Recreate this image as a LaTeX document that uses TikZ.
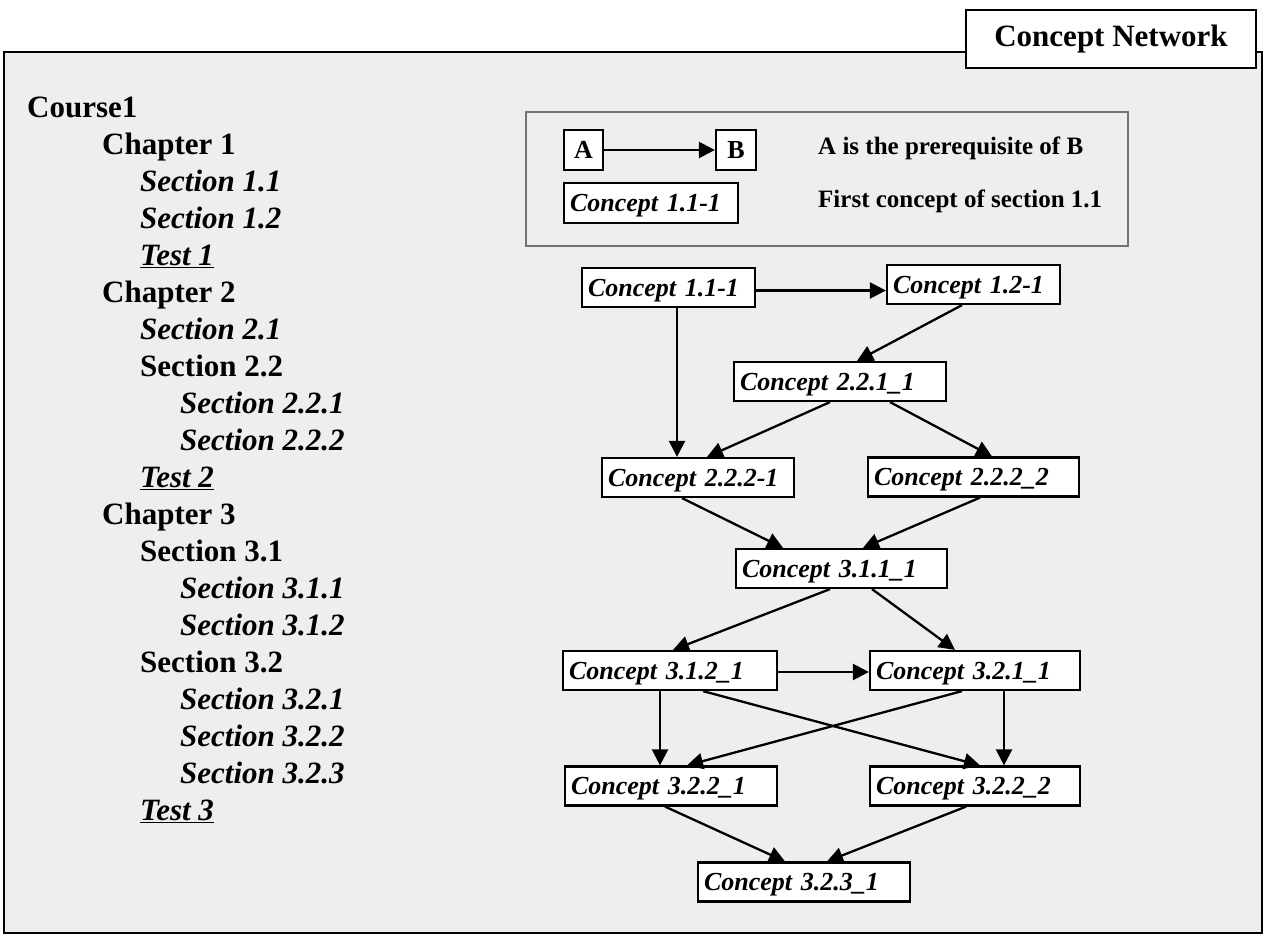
\documentclass[tikz,border=0pt]{standalone}
\usepackage{fontspec}
\setmainfont{Liberation Serif}
\usetikzlibrary{arrows.meta}
\definecolor{bgin}{gray}{0.935}
\tikzset{
  cbox/.style={draw=black, line width=2.2pt, fill=white, inner xsep=6pt, inner ysep=0pt,
    minimum height=39pt, align=left, text height=21pt, text depth=4pt,
    font=\fontsize{26}{28}\selectfont\bfseries\itshape},
  arr/.style={line width=2.3pt, -{Triangle[length=16pt,width=16pt]}},
  lvl/.style={anchor=mid west, inner sep=0pt, font=\fontsize{31}{34}\selectfont\bfseries},
  lvli/.style={lvl, font=\fontsize{31}{34}\selectfont\bfseries\itshape},
  legtext/.style={anchor=mid west, inner sep=0pt, font=\fontsize{25}{28}\selectfont\bfseries},
}
\begin{document}
\begin{tikzpicture}[x=1pt,y=-1pt]
\useasboundingbox (0,0) rectangle (1265,936);
\fill[white] (0,0) rectangle (1265,936);
% outer frame
\draw[line width=2.2pt, fill=bgin] (4,52) rectangle (1262,933);
% title tab
\node[draw, line width=2.2pt, fill=white, minimum width=290pt, minimum height=58pt, inner sep=0pt,
  font=\fontsize{31}{34}\selectfont\bfseries] (title) at (1111,39) {Concept Network};

% left outline
\node[lvl]  (l0)  at (27,115) {Course1};
\node[lvl]  (l1)  at (102,152) {Chapter 1};
\node[lvli] (l2)  at (140,189) {Section 1.1};
\node[lvli] (l3)  at (140,226) {Section 1.2};
\node[lvli] (l4)  at (140,263) {\underline{Test 1}};
\node[lvl]  (l5)  at (102,300) {Chapter 2};
\node[lvli] (l6)  at (140,337) {Section 2.1};
\node[lvl]  (l7)  at (140,374) {Section 2.2};
\node[lvli] (l8)  at (180,411) {Section 2.2.1};
\node[lvli] (l9)  at (180,448) {Section 2.2.2};
\node[lvli] (l10) at (140,485) {\underline{Test 2}};
\node[lvl]  (l11) at (102,522) {Chapter 3};
\node[lvl]  (l12) at (140,559) {Section 3.1};
\node[lvli] (l13) at (180,596) {Section 3.1.1};
\node[lvli] (l14) at (180,633) {Section 3.1.2};
\node[lvl]  (l15) at (140,670) {Section 3.2};
\node[lvli] (l16) at (180,707) {Section 3.2.1};
\node[lvli] (l17) at (180,744) {Section 3.2.2};
\node[lvli] (l18) at (180,781) {Section 3.2.3};
\node[lvli] (l19) at (140,818) {\underline{Test 3}};

% legend
\node[draw=black!55, line width=1.4pt, minimum width=602pt, minimum height=134pt, inner sep=0pt] (legend) at (827,179) {};
\node[cbox, font=\fontsize{26}{28}\selectfont\bfseries, minimum width=39pt, minimum height=40pt, inner xsep=0pt, align=center] (la) at (583.5,150) {A};
\node[cbox, font=\fontsize{26}{28}\selectfont\bfseries, minimum width=40pt, minimum height=40pt, inner xsep=0pt, align=center] (lb) at (736,150) {B};
\draw[arr] (la.east) -- (lb.west);
\node[cbox, text width=162pt, minimum height=40pt] (lc) at (651,203) {Concept 1.1-1};
\node[legtext] (lt1) at (818,152) {A is the prerequisite of B};
\node[legtext] (lt2) at (818,205) {First concept of section 1.1};

% network
\node[cbox, text width=161pt] (c11)   at (668.5,287.5) {Concept 1.1-1};
\node[cbox, text width=161pt] (c12)   at (973.5,284.5) {Concept 1.2-1};
\node[cbox, text width=200pt] (c221)  at (840,381.5)   {Concept 2.2.1\_1};
\node[cbox, text width=180pt] (c2221) at (698,477.5)   {Concept 2.2.2-1};
\node[cbox, text width=199pt] (c2222) at (973.5,477)   {Concept 2.2.2\_2};
\node[cbox, text width=199pt] (c311)  at (841.5,568.5) {Concept 3.1.1\_1};
\node[cbox, text width=202pt] (c312)  at (670,670.5)   {Concept 3.1.2\_1};
\node[cbox, text width=198pt] (c321)  at (975,670.5)   {Concept 3.2.1\_1};
\node[cbox, text width=200pt] (c322a) at (671,786)     {Concept 3.2.2\_1};
\node[cbox, text width=198pt] (c322b) at (975,786)     {Concept 3.2.2\_2};
\node[cbox, text width=200pt] (c323)  at (804,882)     {Concept 3.2.3\_1};

\draw[arr] ([yshift=-3pt]c11.east) -- ([yshift=-3pt]c11.east -| c12.west);
\draw[arr] ([xshift=8.5pt]c11.south) -- ([xshift=8.5pt]c11.south |- c2221.north);
\draw[arr] ([xshift=-11.5pt]c12.south) -- ([xshift=17pt]c221.north);
\draw[arr] ([xshift=-10pt]c221.south) -- ([xshift=9pt]c2221.north);
\draw[arr] ([xshift=50pt]c221.south) -- ([xshift=18.5pt]c2222.north);
\draw[arr] ([xshift=-16pt]c2221.south) -- ([xshift=-58.5pt]c311.north);
\draw[arr] ([xshift=6.5pt]c2222.south) -- ([xshift=21.5pt]c311.north);
\draw[arr] ([xshift=-11.5pt]c311.south) -- ([xshift=3pt]c312.north);
\draw[arr] ([xshift=30.5pt]c311.south) -- ([xshift=-20pt]c321.north);
\draw[arr] ([yshift=-1.5pt]c312.east) -- ([yshift=-1.5pt]c312.east -| c321.west);
\draw[arr] ([xshift=-10pt]c312.south) -- ([xshift=-10pt]c312.south |- c322a.north);
\draw[arr] ([xshift=33pt]c312.south) -- ([xshift=5pt]c322b.north);
\draw[arr] ([xshift=-13pt]c321.south) -- ([xshift=16pt]c322a.north);
\draw[arr] ([xshift=29pt]c321.south) -- ([xshift=29pt]c321.south |- c322b.north);
\draw[arr] ([xshift=-6pt]c322a.south) -- ([xshift=-19pt]c323.north);
\draw[arr] ([xshift=-9pt]c322b.south) -- ([xshift=23pt]c323.north);
\end{tikzpicture}
\end{document}
